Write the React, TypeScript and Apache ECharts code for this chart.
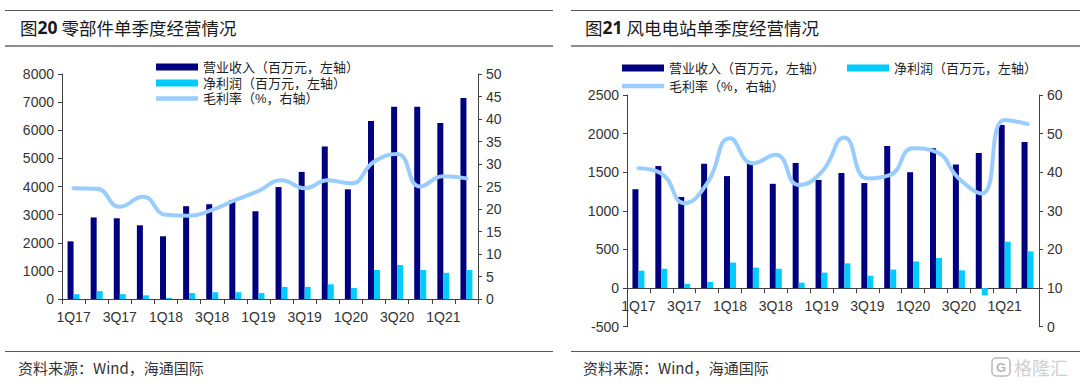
import React, { useEffect, useRef } from "react";
import * as echarts from "echarts";

const quarters = ["1Q17","2Q17","3Q17","4Q17","1Q18","2Q18","3Q18","4Q18","1Q19","2Q19","3Q19","4Q19","1Q20","2Q20","3Q20","4Q20","1Q21","2Q21"];

// 图20 零部件
const partsRevenue = [2050,2900,2870,2620,2230,3300,3370,3520,3120,3980,4520,5420,3900,6330,6840,6840,6260,7150];
const partsNetProfit = [170,280,170,130,40,210,240,240,210,430,430,520,390,1030,1210,1030,930,1030];
const partsGrossMargin = [24.6,24.5,20.5,22.7,18.7,18.5,19.8,22,24,26.4,24.6,26.4,25.7,30.5,32.2,25,27.3,26.8];

// 图21 风电电站
const windRevenue = [1280,1580,1180,1610,1450,1620,1350,1620,1400,1490,1360,1840,1500,1810,1600,1750,2110,1890];
const windNetProfit = [225,250,55,80,330,265,250,70,200,320,160,240,345,390,230,-95,600,475];
const windGrossMargin = [41,39.7,32,37.1,48.8,42.3,44.5,36.7,40,49,38.4,39.3,46.2,45.3,38.4,34.5,53.5,52.5];

const leftTickLabels = { min: 0, max: 8000, interval: 1000 };
const leftRightTicks = { min: 0, max: 50, interval: 5 };
const rightLeftTicks = { min: -500, max: 2500, interval: 500 };
const rightRightTicks = { min: 0, max: 60, interval: 10 };

const NAME_REV = "营业收入（百万元，左轴）";
const NAME_NP = "净利润（百万元，左轴）";
const NAME_GM = "毛利率（%，右轴）";

const NAVY = "#000080";
const CYAN = "#00CCFF";
const LIGHT = "#99CCFF";
const AXIS = "#404040";
const LABEL = "#333333";
const CJK = "'Noto Sans CJK SC', sans-serif";
const LEGEND_FONT = "'Liberation Sans', 'Noto Sans CJK SC', sans-serif";
const LATIN = "'Liberation Sans', Arial, sans-serif";

export default function App() {
  const ref = useRef<HTMLDivElement>(null);
  useEffect(() => {
    if (!ref.current) return;
    const chart = echarts.init(ref.current, null, { renderer: "svg" });

    const yAxisBase = (side: "left" | "right", ticks: any, gridIndex: number) => ({
      type: "value",
      gridIndex,
      position: side,
      min: ticks.min,
      max: ticks.max,
      interval: ticks.interval,
      splitLine: { show: false },
      axisLine: { show: true, lineStyle: { color: AXIS, width: 1 } },
      axisTick: { show: true, length: 4, lineStyle: { color: AXIS } },
      axisLabel: {
        color: LABEL,
        fontSize: 14,
        fontFamily: LATIN,
        margin: 8,
        formatter: (v: number) => String(v),
      },
    });

    const xAxisBase = (gridIndex: number, offset: number) => ({
      type: "category",
      gridIndex,
      position: "bottom",
      offset,
      data: quarters,
      axisLine: { show: true, onZero: false, lineStyle: { color: AXIS, width: 1 } },
      axisTick: { show: true, interval: 0, length: 5, lineStyle: { color: AXIS } },
      axisLabel: { interval: 1, color: LABEL, fontSize: 14, fontFamily: LATIN, margin: 11 },
    });

    const legendBase = {
      padding: 0,
      itemWidth: 42,
      itemHeight: 7,
      itemGap: 5,
      textStyle: { fontSize: 13, fontFamily: LEGEND_FONT, color: "#222" },
    };

    const barSeries = (name: string, data: number[], color: string, idx: number) => ({
      name,
      type: "bar",
      xAxisIndex: idx,
      yAxisIndex: idx * 2,
      data,
      barWidth: 6,
      barGap: "0%",
      itemStyle: { color },
    });

    const lineSeries = (data: number[], idx: number) => ({
      name: NAME_GM,
      type: "line",
      xAxisIndex: idx,
      yAxisIndex: idx * 2 + 1,
      data,
      smooth: 0.5,
      symbol: "none",
      showSymbol: false,
      lineStyle: { color: LIGHT, width: 4, cap: "round", join: "round" },
      itemStyle: { color: LIGHT },
      z: 5,
    });

    const titleText = (x: number, num: string, rest: string) => ({
      type: "text",
      x,
      y: 27,
      style: {
        text: `{a|图}{b|${num}}{a| ${rest}}`,
        verticalAlign: "middle",
        rich: {
          a: { fontSize: 17.5, fontFamily: CJK, fill: "#1a1a1a" },
          b: { fontSize: 17.5, fontFamily: "'Noto Sans', sans-serif", fontWeight: "bold", fill: "#1a1a1a" },
        },
      },
    });

    const hline = (x1: number, x2: number, y: number, w: number, c: string) => ({
      type: "line",
      shape: { x1, y1: y, x2, y2: y },
      style: { stroke: c, lineWidth: w },
      silent: true,
    });

    const footText = (x: number) => ({
      type: "text",
      x,
      y: 367,
      style: {
        text: "资料来源：Wind，海通国际",
        fontSize: 15,
        fontFamily: CJK,
        fill: "#333",
        verticalAlign: "middle",
      },
    });

    const option: any = {
      animation: false,
      backgroundColor: "#ffffff",
      grid: [
        { left: 62, right: 602, top: 74, bottom: 93, containLabel: false },
        { left: 627, right: 41, top: 95, bottom: 65.3, containLabel: false },
      ],
      xAxis: [xAxisBase(0, 0), xAxisBase(1, -38.4)],
      yAxis: [
        yAxisBase("left", leftTickLabels, 0),
        yAxisBase("right", leftRightTicks, 0),
        yAxisBase("left", rightLeftTicks, 1),
        yAxisBase("right", rightRightTicks, 1),
      ],
      legend: [
        { ...legendBase, left: 156, top: 60.5, data: [{ name: NAME_REV, icon: "rect" }] },
        { ...legendBase, left: 156, top: 76.5, data: [{ name: NAME_NP, icon: "rect" }] },
        { ...legendBase, left: 156, top: 92, itemHeight: 4.5, data: [{ name: NAME_GM, icon: "roundRect" }] },
        { ...legendBase, left: 622, top: 61.5, data: [{ name: NAME_REV, icon: "rect" }] },
        { ...legendBase, left: 847, top: 61.5, data: [{ name: NAME_NP, icon: "rect" }] },
        { ...legendBase, left: 622, top: 79.5, itemHeight: 4.5, data: [{ name: NAME_GM, icon: "roundRect" }] },
      ],
      series: [
        barSeries(NAME_REV, partsRevenue, NAVY, 0),
        barSeries(NAME_NP, partsNetProfit, CYAN, 0),
        lineSeries(partsGrossMargin, 0),
        barSeries(NAME_REV, windRevenue, NAVY, 1),
        barSeries(NAME_NP, windNetProfit, CYAN, 1),
        lineSeries(windGrossMargin, 1),
      ],
      graphic: [
        hline(5, 553, 10.5, 1, "#595959"),
        hline(571, 1080, 10.5, 1, "#595959"),
        hline(5, 553, 46, 2, "#8c8c8c"),
        hline(571, 1080, 46, 2, "#8c8c8c"),
        hline(5, 553, 351.5, 1, "#595959"),
        hline(571, 1080, 351.5, 1, "#595959"),
        titleText(20, "20", "零部件单季度经营情况"),
        titleText(585, "21", "风电电站单季度经营情况"),
        footText(18),
        footText(583),
        {
          type: "rect",
          shape: { x: 992, y: 358, width: 18, height: 18, r: 4 },
          style: { fill: "#fff", stroke: "#b8b8b8", lineWidth: 1.5 },
        },
        {
          type: "text",
          x: 1001,
          y: 367,
          style: { text: "G", fontSize: 13, fontFamily: LATIN, fontWeight: "bold", fill: "#b8b8b8", align: "center", verticalAlign: "middle" },
        },
        {
          type: "text",
          x: 1014,
          y: 367,
          style: { text: "格隆汇", fontSize: 18, fontFamily: CJK, fill: "#d0d0d0", verticalAlign: "middle" },
        },
      ],
    };

    chart.setOption(option);
    return () => chart.dispose();
  }, []);

  return (
    <div
      ref={ref}
      style={{ position: "fixed", left: 0, top: 0, width: 1080, height: 392, background: "#fff" }}
    />
  );
}
